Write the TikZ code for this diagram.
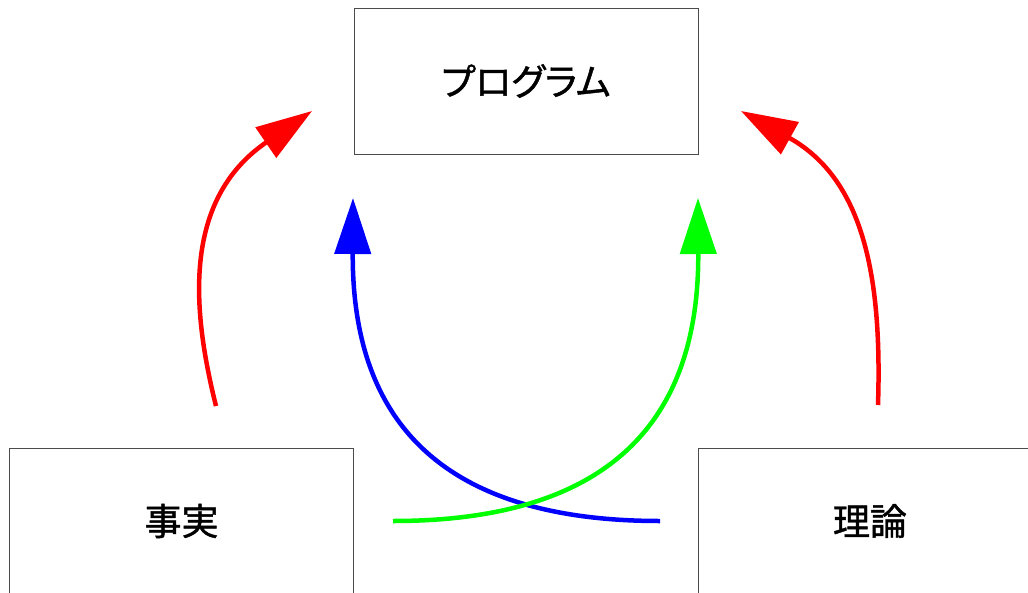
\documentclass[tikz,border=0pt]{standalone}
\usepackage{fontspec}
\newfontfamily\jpfont{Noto Sans CJK JP}[RawFeature=+palt, FakeBold=1.2]
\usetikzlibrary{arrows.meta}
\tikzset{
  box/.style={draw=black!70, line width=1pt, minimum width=344pt, minimum height=146pt, inner sep=0pt, font=\jpfont\fontsize{37pt}{42pt}\selectfont},
  flow/.style={line width=4.5pt, -{Triangle[length=56pt,width=36pt]}}
}
\begin{document}
\begin{tikzpicture}[x=1pt,y=-1pt]
\useasboundingbox (0,0) rectangle (1028,592);
\clip (0,0) rectangle (1028,592);
\node[box] (prog) at (526,81) {プログラム};
\node[box] (fact) at (181.5,521) {事実};
\node[box] (theory) at (870,521) {理論};
% free ends
\coordinate (rlS) at (216,406);
\coordinate (rlE) at (312,111);
\coordinate (rrS) at (878,405);
\coordinate (rrE) at (741,111);
\coordinate (bS) at (660,521);
\coordinate (bE) at (353,198);
\coordinate (gS) at (393,521);
\coordinate (gE) at (698,198);
\draw[flow, red] (rlS) .. controls (192,310) and (182,200) .. (rlE);
\draw[flow, red] (rrS) .. controls (882,280) and (865,180) .. (rrE);
\draw[flow, blue] (bS) .. controls (420,521) and (352,400) .. (bE);
\draw[flow, green] (gS) .. controls (631,521) and (699,400) .. (gE);
\end{tikzpicture}
\end{document}
